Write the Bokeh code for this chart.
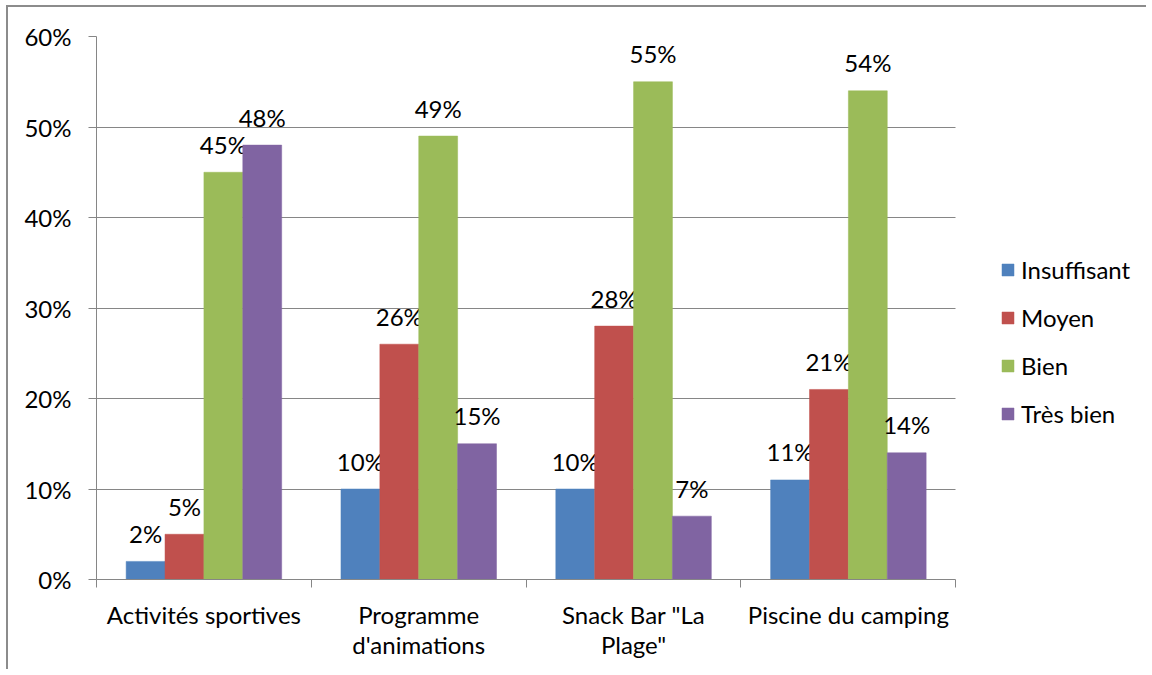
from bokeh.plotting import figure
from bokeh.models import (ColumnDataSource, Range1d, FixedTicker, PrintfTickFormatter,
                          Legend, LegendItem)
from bokeh.transform import dodge
from bokeh.core.properties import value
from bokeh.embed import file_html
from bokeh.resources import INLINE

categories = ["Activités sportives", "Programme\nd'animations", "Snack Bar \"La\nPlage\"", "Piscine du camping"]
series_names = ["Insuffisant", "Moyen", "Bien", "Très bien"]
insuffisant = [2, 10, 10, 11]
moyen = [5, 26, 28, 21]
bien = [45, 49, 55, 54]
tres_bien = [48, 15, 7, 14]
y_ticks = [0, 10, 20, 30, 40, 50, 60]

colors = ["#4F81BD", "#C0504D", "#9BBB59", "#8064A2"]
FONT = "Lato"

xs = list(range(len(categories)))
data = {"x": xs}
for name, vals in zip(series_names, [insuffisant, moyen, bien, tres_bien]):
    data[name] = vals
    data[name + "_lbl"] = [f"{v}%" for v in vals]
source = ColumnDataSource(data)

x_lo, x_hi = -0.5, len(categories) - 0.5
# frame extends to the right to leave room for the legend inside it
p = figure(width=1140, height=664, output_backend="svg", toolbar_location=None,
           x_range=Range1d(x_lo, x_hi + 0.897), y_range=Range1d(0, 60),
           min_border_left=88, min_border_top=29, min_border_right=0, min_border_bottom=92,
           styles={"border-left": "2px solid #8c8c8c", "border-top": "2px solid #8c8c8c",
                   "margin-left": "6px", "margin-top": "5px"})
p.outline_line_color = None
p.background_fill_color = "white"

bw = 0.181
offsets = [-1.5 * bw, -0.5 * bw, 0.5 * bw, 1.5 * bw]
renderers = []
for name, off, c in zip(series_names, offsets, colors):
    r = p.vbar(x=dodge("x", off), top=name, width=bw, source=source,
               fill_color=c, line_color=c, line_width=0.5)
    renderers.append(r)
    p.text(x=dodge("x", off), y=name, text=name + "_lbl", source=source,
           text_align="center", text_baseline="alphabetic", y_offset=-28,
           text_font=value(FONT), text_font_size="24px", text_color="#000000")

# y axis
p.yaxis.ticker = FixedTicker(ticks=y_ticks)
p.yaxis.formatter = PrintfTickFormatter(format="%d%%")
p.yaxis.axis_line_color = "#868686"
p.yaxis.major_tick_line_color = "#868686"
p.yaxis.major_tick_out = 8
p.yaxis.major_tick_in = 0
p.yaxis.minor_tick_line_color = None
p.yaxis.major_label_standoff = 17
p.yaxis.major_label_text_font = FONT
p.yaxis.major_label_text_font_size = "24px"
p.yaxis.major_label_text_color = "#000000"

# x axis: labels at centers, tick marks at boundaries
p.xaxis.bounds = (x_lo, x_hi)
p.xaxis.ticker = FixedTicker(ticks=xs, minor_ticks=[i - 0.5 for i in range(len(categories) + 1)])
p.xaxis.major_label_overrides = {i: c for i, c in enumerate(categories)}
p.xaxis.axis_line_color = "#868686"
p.xaxis.major_tick_line_color = None
p.xaxis.major_tick_out = 8
p.xaxis.minor_tick_line_color = "#868686"
p.xaxis.minor_tick_out = 8
p.xaxis.minor_tick_in = 0
p.xaxis.major_label_standoff = 12
p.xaxis.major_label_text_font = FONT
p.xaxis.major_label_text_font_size = "24px"
p.xaxis.major_label_text_color = "#000000"
p.xaxis.major_label_text_line_height = 1.05

p.xgrid.grid_line_color = None
yg = p.ygrid[0]
yg.ticker = FixedTicker(ticks=y_ticks)
yg.grid_line_color = "#868686"
yg.grid_line_width = 1
if "cross_bounds" in yg.properties():
    yg.cross_bounds = (x_lo, x_hi)
else:
    yg.grid_line_color = None
    p.segment(x0=[x_lo] * len(y_ticks), x1=[x_hi] * len(y_ticks), y0=y_ticks, y1=y_ticks,
              line_color="#868686", line_width=1, level="underlay")

legend = Legend(items=[LegendItem(label=n, renderers=[r]) for n, r in zip(series_names, renderers)],
                location=(894, 141), glyph_width=15, glyph_height=15, label_height=30,
                spacing=18, padding=10, label_standoff=6, border_line_alpha=0,
                background_fill_alpha=0, label_text_font=FONT, label_text_font_size="24px",
                label_text_color="#000000")
p.add_layout(legend, "center")

open("out.html", "w").write(file_html(p, INLINE))
